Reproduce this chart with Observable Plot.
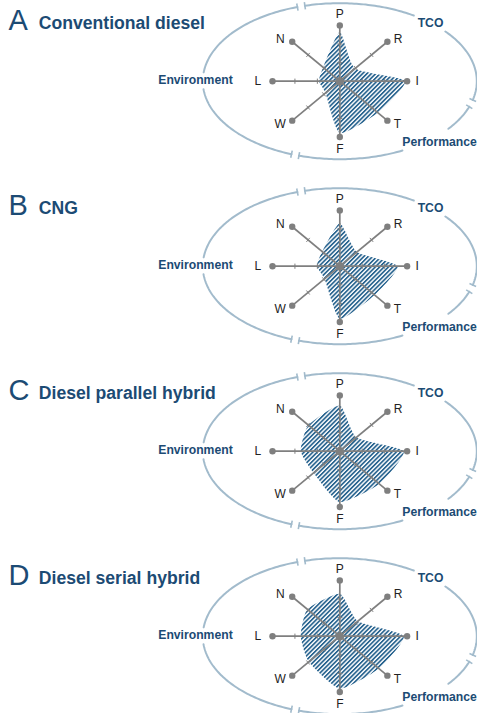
<!DOCTYPE html>
<html><head><meta charset="utf-8">
<script src="https://cdn.jsdelivr.net/npm/d3@7"></script>
<script src="https://cdn.jsdelivr.net/npm/@observablehq/plot@0.6"></script>
<style>html,body{margin:0;padding:0;background:#fff;} svg{display:block}</style>
</head><body><div id="chart"></div>
<script>
// ---- data ----
const axisNames = ["P","R","I","T","F","W","L","N"];
const panelLetters = ["A","B","C","D"];
const panelTitles = ["Conventional diesel","CNG","Diesel parallel hybrid","Diesel serial hybrid"];
const scoresA = [0.88,0.32,0.97,0.80,0.93,0.30,0.31,0.35];
const scoresB = [0.77,0.36,0.86,0.73,0.94,0.32,0.34,0.37];
const scoresC = [0.82,0.35,0.95,0.83,0.91,0.55,0.58,0.66];
const scoresD = [0.76,0.38,0.95,0.82,0.94,0.65,0.58,0.68];
const groupLabels = ["TCO","Performance","Environment"];
const tickFractions = [1/3, 2/3];

// ---- layout ----
const W = 477, H = 713;
const KX = 67.3, KY = 55.8;       // px per unit radius (x, y)
const CX = 339.3, CY0 = 80.7, STEP = 185;
const xDom = [-CX / KX, (W - CX) / KX];
const yDom = [(CY0 - H) / KY, CY0 / KY];
const ERX = 137, ERY = 78;        // outer ellipse (px)
const scoreSets = [scoresA, scoresB, scoresC, scoresD];
const panelY = k => -k * STEP / KY;
const ang = i => i * Math.PI / 4;
const px2x = p => p / KX, px2y = p => -p / KY;   // pixel offset (down positive) -> data
const BLUE = "#1c4b74", ELL = "#a2bbcc", GREY = "#7f7f7f";

// radar polygons
const poly = panelLetters.flatMap((p, k) => scoreSets[k].map((v, i) => ({
  panel: p, x: v * Math.sin(ang(i)), y: panelY(k) + v * Math.cos(ang(i))
})));
// spokes
const spokes = panelLetters.flatMap((p, k) => axisNames.map((a, i) => ({
  x1: 0, y1: panelY(k), x2: Math.sin(ang(i)), y2: panelY(k) + Math.cos(ang(i))
})));
const centers = panelLetters.map((p, k) => ({x: 0, y: panelY(k)}));
// ticks on spokes
const ticks = [];
panelLetters.forEach((p, k) => axisNames.forEach((a, i) => {
  const ux = Math.sin(ang(i)) * KX, uy = -Math.cos(ang(i)) * KY;
  const L = Math.hypot(ux, uy);
  const nx = -uy / L, ny = ux / L, h = 2.6;
  tickFractions.forEach(f => {
    const x = f * Math.sin(ang(i)), y = panelY(k) + f * Math.cos(ang(i));
    ticks.push({x1: x + px2x(nx * h), y1: y + px2y(ny * h), x2: x - px2x(nx * h), y2: y - px2y(ny * h)});
  });
}));
// axis labels
const labOff = [[0,-11.7],[10.6,-2.7],[10,0],[10,3],[0,12],[-12,3],[-14.7,0],[-12,-2.7]];
const axisLabels = panelLetters.flatMap((p, k) => axisNames.map((a, i) => ({
  text: a,
  x: Math.sin(ang(i)) + px2x(labOff[i][0]),
  y: panelY(k) + Math.cos(ang(i)) + px2y(labOff[i][1])
})));
// outer ellipse arcs with breaks
const D2R = Math.PI / 180;
const speed = phi => Math.hypot(ERX * Math.sin(phi * D2R), ERY * Math.cos(phi * D2R));
const gap = phi => (3.8 / speed(phi)) / D2R;
const brk = [-106.4, 16.5, 109];
const gT = gap(brk[0]), gR = gap(brk[1]), gB = gap(brk[2]);
const segs = [[brk[0] + gT, -57.3], [-39.6, brk[1] - gR], [brk[1] + gR, 37.6], [62.8, brk[2] - gB],
              [brk[2] + gB, 174], [186.5, 360 + brk[0] - gT]];
const ePt = (phi, k) => ({x: px2x(ERX * Math.cos(phi * D2R)), y: panelY(k) + px2y(ERY * Math.sin(phi * D2R))});
const arcs = [];
panelLetters.forEach((p, k) => segs.forEach(([a0, a1], s) => {
  const n = Math.max(2, Math.ceil(a1 - a0));
  for (let j = 0; j <= n; j++) arcs.push({z: p + s, ...ePt(a0 + (a1 - a0) * j / n, k)});
}));
const caps = [];
panelLetters.forEach((p, k) => [[brk[0], gT], [brk[1], gR], [brk[2], gB]].forEach(([b, g]) => {
  [b - g, b + g].forEach(phi => {
    const c = Math.cos(phi * D2R), s = Math.sin(phi * D2R);
    let nx = c / ERX, ny = s / ERY; const L = Math.hypot(nx, ny); nx /= L; ny /= L;
    const pt = ePt(phi, k), h = 3.6;
    caps.push({x1: pt.x + px2x(nx * h), y1: pt.y + px2y(ny * h), x2: pt.x - px2x(nx * h), y2: pt.y - px2y(ny * h)});
  });
}));
const grpOff = [[90.7,-58.5],[99.7,61.3],[-144.3,-0.7]];
const grpRows = panelLetters.flatMap((p, k) => groupLabels.map((t, j) => ({
  text: t, x: px2x(grpOff[j][0]), y: panelY(k) + px2y(grpOff[j][1])
})));
const letterRows = panelLetters.map((p, k) => ({text: p, x: xDom[0] + px2x(8), y: panelY(k) + px2y(-60.4)}));
const titleRows = panelLetters.map((p, k) => ({text: panelTitles[k], x: xDom[0] + px2x(38.3), y: panelY(k) + px2y(-57.8)}));

const chart = Plot.plot({
  width: W, height: H,
  marginTop: 0, marginBottom: 0, marginLeft: 0, marginRight: 0,
  x: {domain: xDom, axis: null},
  y: {domain: yDom, axis: null},
  style: {fontFamily: "'Liberation Sans', Arial, sans-serif", background: "white"},
  marks: [
    Plot.line(arcs, {x: "x", y: "y", z: "z", stroke: ELL, strokeWidth: 2}),
    Plot.link(caps, {x1: "x1", y1: "y1", x2: "x2", y2: "y2", stroke: ELL, strokeWidth: 1.6}),
    Plot.line(poly, {x: "x", y: "y", z: "panel", fill: "url(#hatch)", stroke: "none", curve: "cardinal-closed", tension: 0.45}),
    Plot.link(spokes, {x1: "x1", y1: "y1", x2: "x2", y2: "y2", stroke: GREY, strokeWidth: 1.7}),
    Plot.link(ticks, {x1: "x1", y1: "y1", x2: "x2", y2: "y2", stroke: GREY, strokeWidth: 1}),
    Plot.dot(spokes, {x: "x2", y: "y2", r: 3.2, fill: GREY, stroke: "none"}),
    Plot.dot(centers, {x: "x", y: "y", r: 4.3, fill: GREY, stroke: "none"}),
    Plot.text(axisLabels, {x: "x", y: "y", text: "text", fontSize: 12, fill: "#222"}),
    Plot.text(grpRows, {x: "x", y: "y", text: "text", fontSize: 12.2, fontWeight: "bold", fill: BLUE}),
    Plot.text(letterRows, {x: "x", y: "y", text: "text", fontSize: 29, fill: BLUE, textAnchor: "start"}),
    Plot.text(titleRows, {x: "x", y: "y", text: "text", fontSize: 17.6, fontWeight: "bold", fill: BLUE, textAnchor: "start"})
  ]
});
const ns = "http://www.w3.org/2000/svg";
const defs = document.createElementNS(ns, "defs");
defs.innerHTML = `<pattern id="hatch" patternUnits="userSpaceOnUse" width="3.1" height="3.1" patternTransform="rotate(45)">
  <rect x="0" y="0" width="3.1" height="3.1" fill="#ffffff"/>
  <rect x="0" y="0" width="1.7" height="3.1" fill="#2a6590"/></pattern>`;
chart.insertBefore(defs, chart.firstChild);
document.getElementById("chart").appendChild(chart);
</script></body></html>
